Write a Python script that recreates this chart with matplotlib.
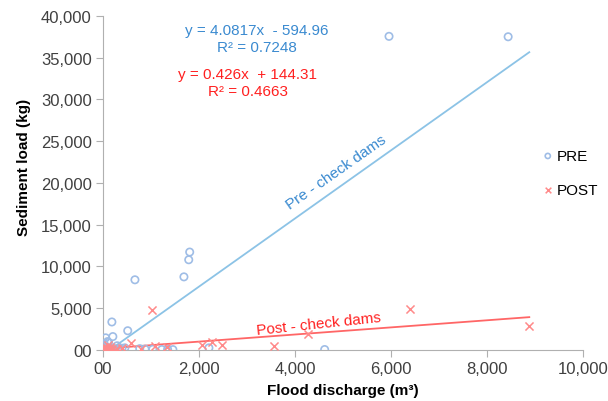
import numpy as np
import matplotlib.pyplot as plt
from matplotlib.ticker import FuncFormatter

plt.rcParams['font.family'] = ['Liberation Sans', 'DejaVu Sans']

# PRE check dams (blue circles)
pre_x = [5960, 8440, 1810, 1790, 1690, 670, 4620, 520, 190, 210, 60, 0, 80, 150,
         250, 350, 460, 770, 880, 1040, 1230, 1350, 1460, 2210, 30, 120, 300, 400, 20, 100]
pre_y = [37550, 37500, 11720, 10800, 8750, 8400, 50, 2300, 3350, 1600, 1450, 100, 300, 200,
         150, 100, 250, 150, 100, 80, 50, 60, 40, 250, 700, 900, 500, 200, 50, 1000]

# POST check dams (red crosses)
post_x = [8880, 6400, 1020, 4270, 3560, 2480, 2270, 2060, 580, 790, 1080, 1330,
          0, 20, 50, 80, 120, 150, 200, 250, 300, 400, 30, 60, 100]
post_y = [2900, 4950, 4800, 1850, 500, 650, 1000, 600, 850, 150, 500, 400,
          0, 100, 50, 200, 30, 300, 100, 50, 150, 250, 400, 10, 600]

# trendline coefficients as printed on the chart
pre_fit = (4.0817, -594.96)
post_fit = (0.426, 144.31)
fit_range = [0, 8880]

fig = plt.figure(figsize=(6.08, 4.02), dpi=100)
ax = fig.add_axes([0.169, 0.127, 0.79, 0.831])

blue_mk = '#9fbde6'
blue_ln = '#8cc3e6'
blue_tx = '#3a8ad0'
red_mk = '#ff8a8a'
red_ln = '#ff6666'
red_tx = '#ff2020'

ax.scatter(pre_x, pre_y, s=28, facecolors='none', edgecolors=blue_mk, linewidths=1.2,
           label='PRE', zorder=3)
ax.scatter(post_x, post_y, s=34, marker='x', color=red_mk, linewidths=1.1,
           label='POST', zorder=4)

xs = np.array(fit_range)
ax.plot(xs, pre_fit[0] * xs + pre_fit[1], color=blue_ln, lw=1.3, zorder=2)
ax.plot(xs, post_fit[0] * xs + post_fit[1], color=red_ln, lw=1.3, zorder=2)

ax.set_xlim(0, 10000)
ax.set_ylim(0, 40000)
ax.set_xticks(range(0, 10001, 2000))
ax.set_yticks(range(0, 40001, 5000))
fmt = FuncFormatter(lambda v, p: '00' if v == 0 else f'{int(v):,}')
ax.xaxis.set_major_formatter(fmt)
ax.yaxis.set_major_formatter(fmt)

for s in ['top', 'right']:
    ax.spines[s].set_visible(False)
for s in ['left', 'bottom']:
    ax.spines[s].set_color('#b0b0b0')
ax.tick_params(direction='out', length=5, color='#b0b0b0', labelsize=12,
               labelcolor='#404040', pad=3)

ax.set_xlabel('Flood discharge (m³)', fontsize=11, fontweight='bold', labelpad=5)
ax.set_ylabel('Sediment load (kg)', fontsize=11, fontweight='bold')
ax.yaxis.set_label_coords(-0.15, 0.548)

ax.text(3200, 37300, 'y = 4.0817x  - 594.96\nR² = 0.7248', color=blue_tx, fontsize=11,
        ha='center', va='center', linespacing=1.25)
ax.text(3020, 32000, 'y = 0.426x  + 144.31\nR² = 0.4663', color=red_tx, fontsize=11,
        ha='center', va='center', linespacing=1.25)

ax.text(4860, 21300, 'Pre - check dams', color=blue_tx, fontsize=11, rotation=35,
        ha='center', va='center')
ax.text(4500, 3200, 'Post - check dams', color=red_tx, fontsize=11, rotation=6,
        ha='center', va='center')

ax.legend(loc='center left', bbox_to_anchor=(0.882, 0.53), frameon=False, fontsize=11,
          handletextpad=0.1, labelspacing=1.3, handlelength=1.0, markerscale=0.7)

fig.savefig('out.png', dpi=100)
